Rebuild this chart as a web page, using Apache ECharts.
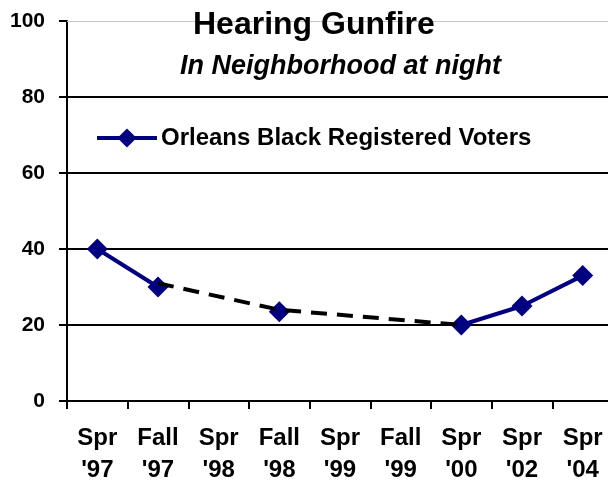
<!DOCTYPE html>
<html>
<head>
<meta charset="utf-8">
<script src="https://cdn.jsdelivr.net/npm/echarts@6/dist/echarts.min.js"></script>
<style>html,body{margin:0;padding:0;background:#fff}#c{width:608px;height:481px}</style>
</head>
<body>
<div id="c"></div>
<script>
var categories = ["Spr\n'97", "Fall\n'97", "Spr\n'98", "Fall\n'98", "Spr\n'99", "Fall\n'99", "Spr\n'00", "Spr\n'02", "Spr\n'04"];
var voters = [40, 30, null, 23.5, null, null, 20, 25, 33];
var trend = [null, 31, null, 24, null, null, 20, null, null];
var yTicks = [0, 20, 40, 60, 80, 100];

var FONT = 'Liberation Sans, Arial, Helvetica, sans-serif';
var chart = echarts.init(document.getElementById('c'), null, {renderer: 'canvas'});
chart.setOption({
  animation: false,
  backgroundColor: '#fff',
  title: [
    {text: 'Hearing Gunfire', left: 193, top: 9, padding: 0,
     textStyle: {fontFamily: FONT, fontWeight: 'bold', fontSize: 32, color: '#000'}},
    {text: 'In Neighborhood at night', left: 180, top: 53, padding: 0,
     textStyle: {fontFamily: FONT, fontWeight: 'bold', fontStyle: 'italic', fontSize: 27, color: '#000'}}
  ],
  legend: {
    data: ['Orleans Black Registered Voters'],
    left: 95, top: 126, padding: 0, itemWidth: 60, itemHeight: 24, itemGap: 0,
    lineStyle: {width: 4, color: '#000080'},
    textStyle: {fontFamily: FONT, fontWeight: 'bold', fontSize: 24, color: '#000', padding: [0, 0, 0, -1]}
  },
  grid: {left: 67, width: 546, top: 21, height: 380, containLabel: false, outerBoundsMode: 'none'},
  xAxis: {
    type: 'category', data: categories, boundaryGap: true,
    axisLine: {lineStyle: {color: '#000', width: 2}},
    axisTick: {show: true, length: 8, lineStyle: {color: '#000', width: 2}, alignWithLabel: false},
    axisLabel: {fontFamily: FONT, fontWeight: 'bold', fontSize: 24, color: '#000', lineHeight: 32, margin: 21, interval: 0}
  },
  yAxis: {
    type: 'value', min: 0, max: 100, interval: 20,
    axisLine: {show: true, lineStyle: {color: '#000', width: 2}},
    axisTick: {show: true, length: 8, lineStyle: {color: '#000', width: 2}},
    axisLabel: {fontFamily: FONT, fontWeight: 'bold', fontSize: 21, color: '#000', margin: 22,
      formatter: function (v) { return yTicks.indexOf(v) >= 0 ? String(v) : ''; }},
    splitLine: {show: true, lineStyle: {color: ['#000', '#000', '#000', '#000', '#000', 'rgba(0,0,0,0)'], width: 2}}
  },
  series: [
    {
      name: 'Orleans Black Registered Voters', type: 'line', data: voters, connectNulls: false,
      symbol: 'diamond', symbolSize: 21, showAllSymbol: true,
      lineStyle: {color: '#000080', width: 4}, itemStyle: {color: '#000080'}, z: 3,
      markLine: {silent: true, symbol: 'none', label: {show: false},
        lineStyle: {color: '#c8c8c8', width: 1, type: 'solid'}, data: [{yAxis: 100}]}
    },
    {
      name: 'trend', type: 'line', data: trend, connectNulls: true, symbol: 'none',
      lineStyle: {color: '#000', width: 4, type: [16, 10]}, z: 4
    }
  ]
});
</script>
</body>
</html>
